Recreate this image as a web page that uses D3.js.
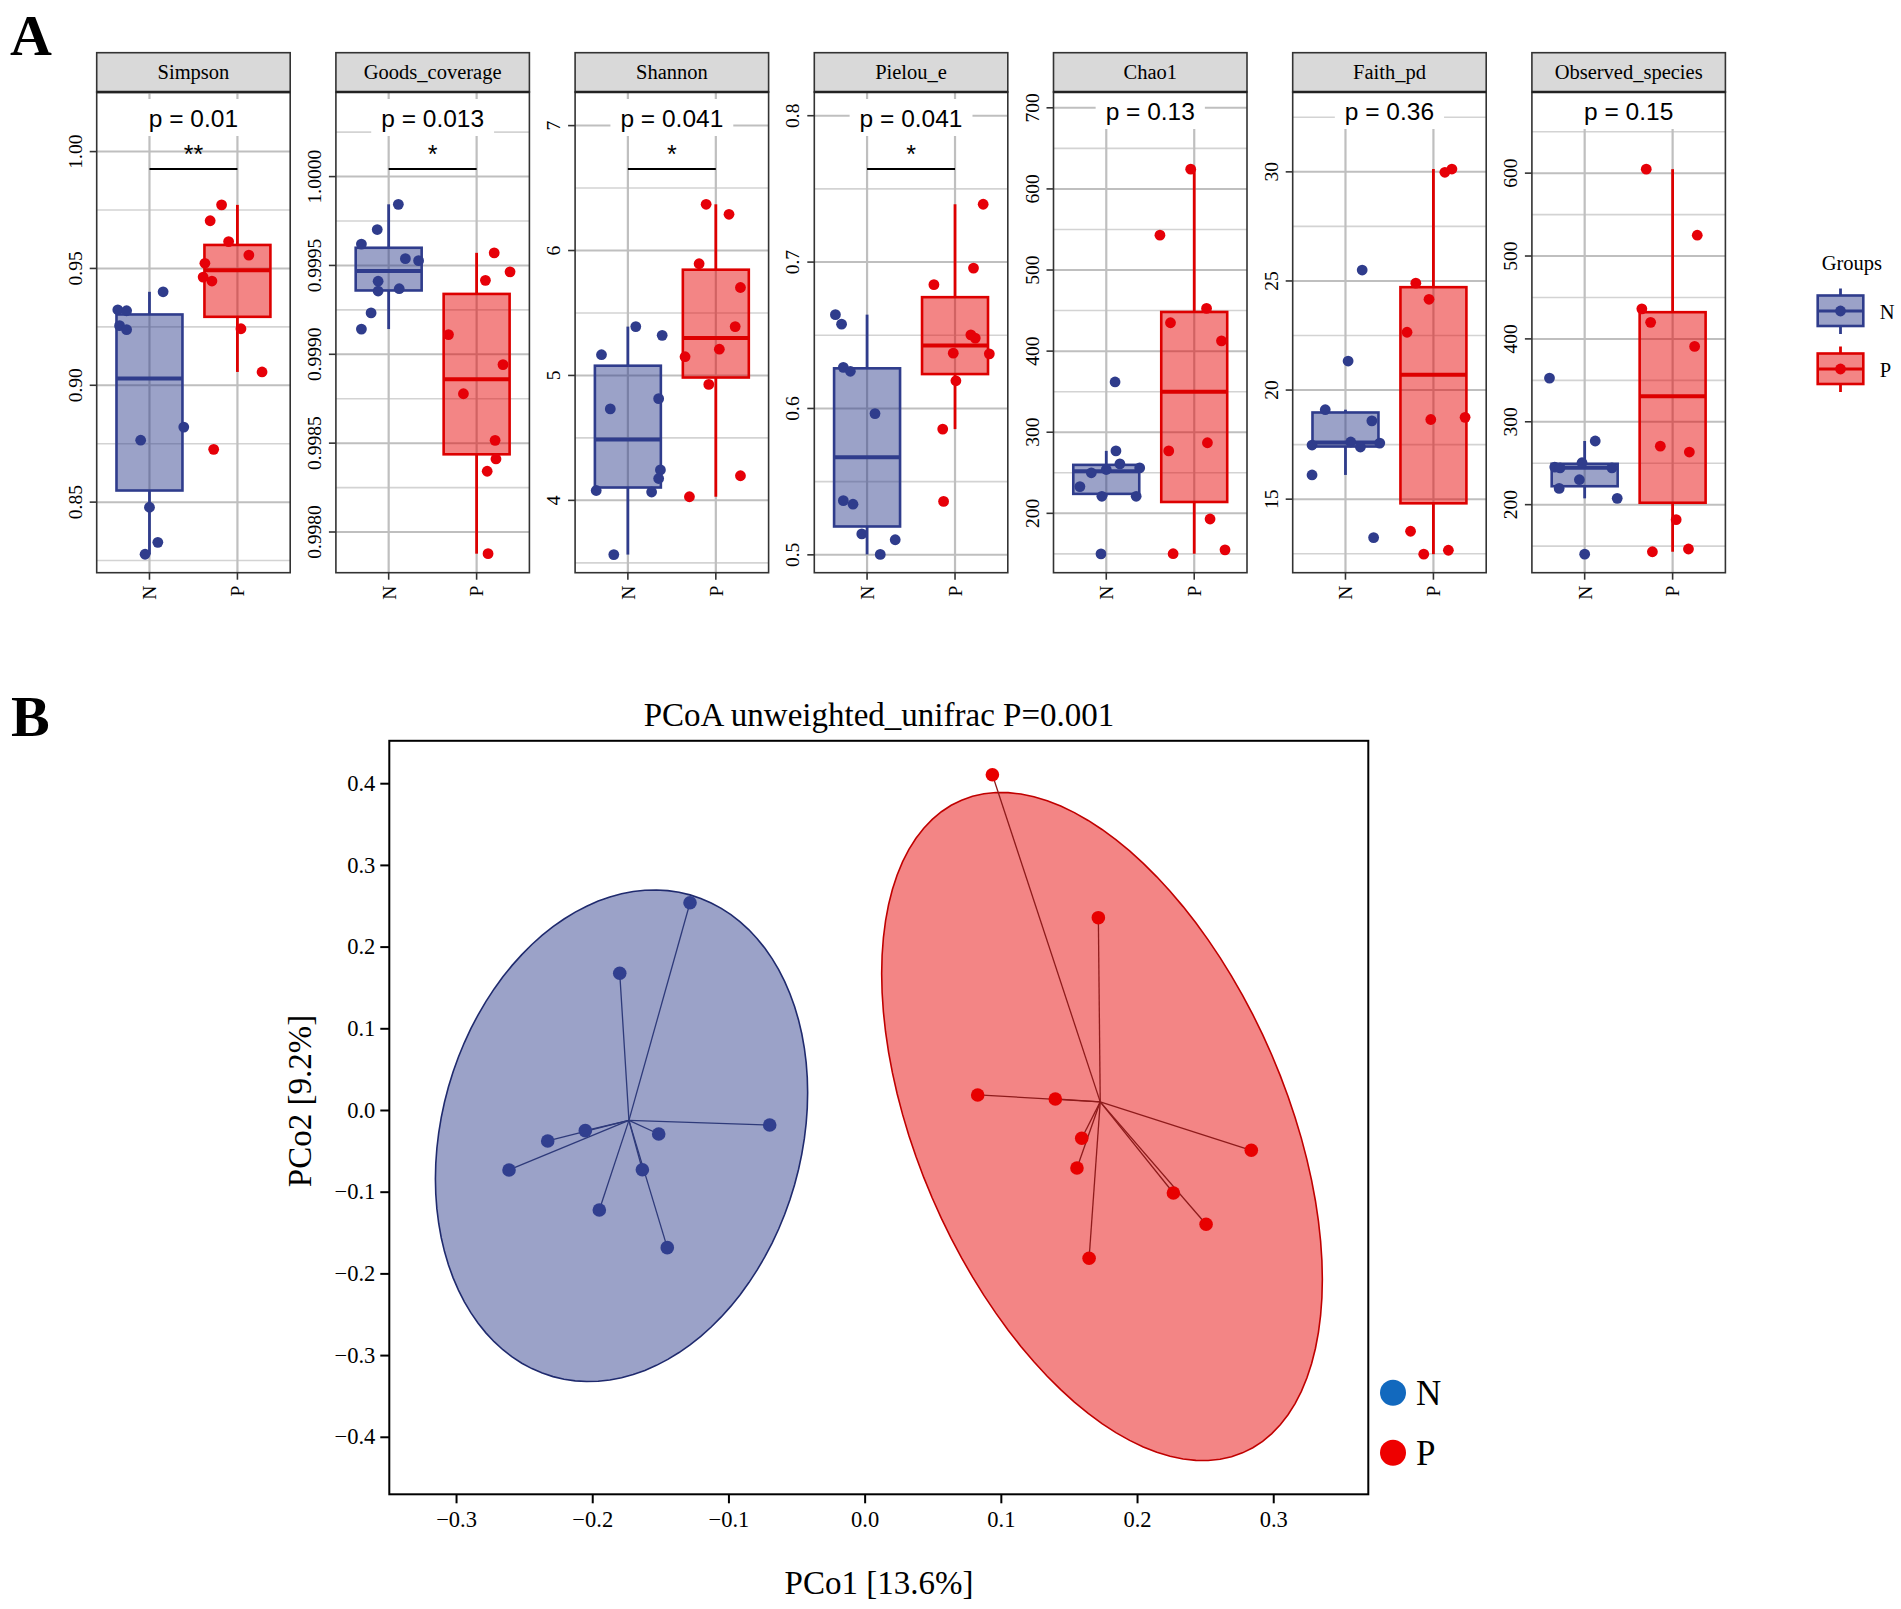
<!DOCTYPE html>
<html>
<head>
<meta charset="utf-8">
<script src="https://cdn.jsdelivr.net/npm/d3@7"></script>
<style>
  body { margin: 0; background: #fff; }
  svg text { font-family: "Liberation Serif", "Times New Roman", serif; fill: #000; }
  svg text.sans { font-family: "Liberation Sans", Arial, sans-serif; }
</style>
</head>
<body>
<svg id="fig" width="1901" height="1609"></svg>
<script>
// ---------------- data (panel A: alpha diversity) ----------------
var metrics = ["Simpson", "Goods_coverage", "Shannon", "Pielou_e", "Chao1", "Faith_pd", "Observed_species"];
var groups = ["N", "P"];
var pLabels = ["p = 0.01", "p = 0.013", "p = 0.041", "p = 0.041", "p = 0.13", "p = 0.36", "p = 0.15"];
var sigLabels = ["**", "*", "*", "*", "", "", ""];

var simpsonN = [0.9323, 0.9319, 0.9255, 0.9238, 0.9400, 0.8821, 0.8765, 0.8478, 0.8328, 0.8277];
var simpsonP = [0.9772, 0.9704, 0.9615, 0.9557, 0.9522, 0.9463, 0.9446, 0.9242, 0.9057, 0.8726];
var goodsN = [0.999844, 0.999702, 0.999620, 0.999538, 0.999527, 0.999411, 0.999369, 0.999356, 0.999233, 0.999142];
var goodsP = [0.999571, 0.999464, 0.999416, 0.999111, 0.998942, 0.998778, 0.998516, 0.998411, 0.998342, 0.997878];
var shannonN = [5.391, 5.321, 5.166, 4.732, 4.814, 4.244, 4.175, 4.079, 4.067, 3.566];
var shannonP = [6.370, 6.290, 5.894, 5.704, 5.391, 5.210, 5.150, 4.928, 4.197, 4.029];
var pielouN = [0.6641, 0.6576, 0.6281, 0.6254, 0.5965, 0.5370, 0.5346, 0.5143, 0.5103, 0.5003];
var pielouP = [0.7395, 0.6959, 0.6846, 0.6503, 0.6481, 0.6378, 0.6373, 0.6189, 0.5859, 0.5365];
var chao1N = [362, 277, 261, 256, 250, 254, 233, 221, 221, 150];
var chao1P = [624.4, 543, 452.7, 435, 412.7, 287, 277, 193, 155, 150.2];
var faithN = [25.50, 21.33, 19.10, 18.59, 17.62, 17.48, 17.39, 17.57, 16.11, 13.24];
var faithP = [29.98, 30.13, 24.90, 24.16, 22.65, 18.65, 18.75, 13.53, 12.48, 12.66];
var observedN = [352.7, 276.8, 245.3, 244.4, 250.6, 244.4, 230.1, 219.6, 207.6, 140.3];
var observedP = [604.8, 525.1, 436.3, 420, 390.9, 270.6, 263.5, 181.9, 143.2, 146.5];

// jitter offsets (fraction of category spacing)
var simpsonNJit = [-0.36, -0.26, -0.34, -0.26, 0.155, 0.39, -0.10, 0.0, 0.095, -0.05];
var simpsonPJit = [-0.18, -0.31, -0.10, 0.13, -0.37, -0.39, -0.29, 0.04, 0.28, -0.27];
var goodsNJit = [0.11, -0.13, -0.31, 0.19, 0.34, -0.12, 0.12, -0.12, -0.20, -0.31];
var goodsPJit = [0.20, 0.38, 0.10, -0.32, 0.30, -0.15, 0.21, 0.22, 0.12, 0.13];
var shannonNJit = [0.09, 0.39, -0.30, -0.20, 0.35, 0.37, 0.35, -0.36, 0.27, -0.16];
var shannonPJit = [-0.11, 0.15, -0.19, 0.28, 0.22, 0.04, -0.35, -0.08, 0.28, -0.30];
var pielouNJit = [-0.36, -0.29, -0.27, -0.19, 0.09, -0.27, -0.16, -0.06, 0.32, 0.15];
var pielouPJit = [0.32, 0.21, -0.24, 0.18, 0.23, -0.02, 0.39, 0.01, -0.14, -0.13];
var chao1NJit = [0.10, 0.11, 0.155, 0.38, -0.17, 0.0, -0.30, -0.05, 0.34, -0.06];
var chao1PJit = [-0.04, -0.39, 0.14, -0.27, 0.31, 0.15, -0.29, 0.18, 0.35, -0.24];
var faithNJit = [0.19, 0.03, -0.23, 0.30, 0.06, -0.38, 0.17, 0.39, -0.38, 0.32];
var faithPJit = [0.13, 0.21, -0.20, -0.05, -0.30, -0.03, 0.36, -0.26, -0.11, 0.17];
var observedNJit = [-0.40, 0.12, -0.34, -0.28, -0.03, 0.31, -0.06, -0.29, 0.37, 0.0];
var observedPJit = [-0.30, 0.28, -0.35, -0.25, 0.25, -0.14, 0.19, 0.04, -0.23, 0.18];

var yLimits = [[0.8198, 1.0255], [0.997771, 1.000476], [3.421, 7.269], [0.4878, 0.8162],
               [126.8, 719.5], [11.63, 33.66], [117.9, 697.9]];
var yTicks = [[0.85, 0.90, 0.95, 1.00], [0.9980, 0.9985, 0.9990, 0.9995, 1.0000], [4, 5, 6, 7],
              [0.5, 0.6, 0.7, 0.8], [200, 300, 400, 500, 600, 700], [15, 20, 25, 30], [200, 300, 400, 500, 600]];
var tickDecimals = [2, 4, 0, 1, 0, 0, 0];

// ---------------- data (panel B: PCoA) ----------------
var pcoaNx = [-0.1282, -0.1798, -0.2051, -0.2327, -0.2611, -0.1512, -0.1632, -0.1948, -0.1449, -0.0697];
var pcoaNy = [0.2537, 0.1673, -0.0253, -0.0379, -0.0734, -0.0294, -0.0731, -0.1224, -0.1685, -0.0184];
var pcoaPx = [0.0938, 0.1716, 0.0830, 0.1400, 0.1594, 0.1559, 0.2839, 0.2267, 0.2507, 0.1648];
var pcoaPy = [0.4104, 0.2354, 0.0184, 0.0135, -0.0346, -0.0710, -0.0493, -0.1016, -0.1399, -0.1815];
var pcoaXTicks = [-0.3, -0.2, -0.1, 0.0, 0.1, 0.2, 0.3];
var pcoaYTicks = [-0.4, -0.3, -0.2, -0.1, 0.0, 0.1, 0.2, 0.3, 0.4];
var pcoaTitle = "PCoA unweighted_unifrac P=0.001";
var pcoaXLabel = "PCo1 [13.6%]";
var pcoaYLabel = "PCo2 [9.2%]";

var valuesN = [simpsonN, goodsN, shannonN, pielouN, chao1N, faithN, observedN];
var valuesP = [simpsonP, goodsP, shannonP, pielouP, chao1P, faithP, observedP];
var jitterN = [simpsonNJit, goodsNJit, shannonNJit, pielouNJit, chao1NJit, faithNJit, observedNJit];
var jitterP = [simpsonPJit, goodsPJit, shannonPJit, pielouPJit, chao1PJit, faithPJit, observedPJit];

// ---------------- styles ----------------
var col = {
  N: { point: "#2f3c8c", line: "#2f3c8c", fill: "#2f3c8c" },
  P: { point: "#e60008", line: "#dd0000", fill: "#e60000" }
};

var svg = d3.select("#fig");
svg.append("rect").attr("width", 1901).attr("height", 1609).attr("fill", "#fff");

function boxStats(v) {
  var s = v.slice().sort(d3.ascending);
  var q1 = d3.quantileSorted(s, 0.25), med = d3.quantileSorted(s, 0.5), q3 = d3.quantileSorted(s, 0.75);
  var iqr = q3 - q1;
  return {
    q1: q1, med: med, q3: q3,
    lo: d3.min(s.filter(function (d) { return d >= q1 - 1.5 * iqr; })),
    hi: d3.max(s.filter(function (d) { return d <= q3 + 1.5 * iqr; }))
  };
}

// ---------------- panel A ----------------
var panelLeft0 = 96.7, panelStep = 239.2, panelW = 193.5;
var stripTop = 52.7, stripBottom = 92, panelBottom = 572.7;

metrics.forEach(function (m, i) {
  var left = panelLeft0 + i * panelStep;
  var g = svg.append("g").attr("transform", "translate(" + left + ",0)");
  var x = d3.scalePoint().domain(groups).range([0, panelW]).padding(0.6);
  var step = x.step();
  var y = d3.scaleLinear().domain(yLimits[i]).range([panelBottom, stripBottom]);
  var ticks = yTicks[i];
  var dstep = ticks[1] - ticks[0];
  var minor = [];
  for (var k = -1; k < ticks.length; k++) {
    var v = ticks[0] + (k + 0.5) * dstep;
    if (v > yLimits[i][0] && v < yLimits[i][1]) minor.push(v);
  }
  var fmt = d3.format("." + tickDecimals[i] + "f");

  // grid
  g.selectAll(".minor").data(minor).enter().append("line")
    .attr("x1", 0).attr("x2", panelW)
    .attr("y1", function (d) { return y(d); }).attr("y2", function (d) { return y(d); })
    .attr("stroke", "#d3d3d3").attr("stroke-width", 1.6);
  g.selectAll(".major").data(ticks).enter().append("line")
    .attr("x1", 0).attr("x2", panelW)
    .attr("y1", function (d) { return y(d); }).attr("y2", function (d) { return y(d); })
    .attr("stroke", "#bfbfbf").attr("stroke-width", 2);
  g.selectAll(".vgrid").data(groups).enter().append("line")
    .attr("x1", function (d) { return x(d); }).attr("x2", function (d) { return x(d); })
    .attr("y1", stripBottom).attr("y2", panelBottom)
    .attr("stroke", "#bfbfbf").attr("stroke-width", 2.2);

  // p value label with white background
  var hasSig = sigLabels[i] !== "";
  var pBase = hasSig ? 127 : 120;
  var bg = g.append("rect").attr("fill", "#fff");
  var pt = g.append("text").attr("class", "sans")
    .attr("x", panelW / 2).attr("y", pBase)
    .attr("text-anchor", "middle").attr("font-size", 24.5)
    .text(pLabels[i]);
  var tw = pt.node().getComputedTextLength();
  bg.attr("x", panelW / 2 - tw / 2 - 10).attr("width", tw + 20)
    .attr("y", Math.max(stripBottom, pBase - 28)).attr("height", pBase + 9 - Math.max(stripBottom, pBase - 28));

  // boxes
  var boxW = step * 0.75;
  [["N", valuesN[i]], ["P", valuesP[i]]].forEach(function (gp) {
    var grp = gp[0], st = boxStats(gp[1]), cx = x(grp);
    var c = col[grp];
    g.append("line").attr("x1", cx).attr("x2", cx).attr("y1", y(st.hi)).attr("y2", y(st.q3))
      .attr("stroke", c.line).attr("stroke-width", 2.8);
    g.append("line").attr("x1", cx).attr("x2", cx).attr("y1", y(st.q1)).attr("y2", y(st.lo))
      .attr("stroke", c.line).attr("stroke-width", 2.8);
    g.append("rect").attr("x", cx - boxW / 2).attr("width", boxW)
      .attr("y", y(st.q3)).attr("height", y(st.q1) - y(st.q3))
      .attr("fill", c.fill).attr("fill-opacity", 0.48)
      .attr("stroke", c.line).attr("stroke-width", 2.6);
    g.append("line").attr("x1", cx - boxW / 2).attr("x2", cx + boxW / 2)
      .attr("y1", y(st.med)).attr("y2", y(st.med))
      .attr("stroke", c.line).attr("stroke-width", 4);
  });

  // jittered points
  [["N", valuesN[i], jitterN[i]], ["P", valuesP[i], jitterP[i]]].forEach(function (gp) {
    var grp = gp[0], jit = gp[2];
    g.selectAll(".pt" + grp).data(gp[1]).enter().append("circle")
      .attr("cx", function (d, j) { return x(grp) + jit[j] * step; })
      .attr("cy", function (d) { return y(d); })
      .attr("r", 5.4).attr("fill", col[grp].point);
  });

  // significance bar
  if (hasSig) {
    g.append("line").attr("x1", x("N")).attr("x2", x("P")).attr("y1", 169).attr("y2", 169)
      .attr("stroke", "#000").attr("stroke-width", 2);
    g.append("text").attr("class", "sans").attr("x", panelW / 2).attr("y", 163)
      .attr("text-anchor", "middle").attr("font-size", 25).text(sigLabels[i]);
  }

  // panel border + strip
  g.append("rect").attr("x", 0).attr("y", stripBottom).attr("width", panelW).attr("height", panelBottom - stripBottom)
    .attr("fill", "none").attr("stroke", "#333").attr("stroke-width", 1.6);
  g.append("rect").attr("x", 0).attr("y", stripTop).attr("width", panelW).attr("height", stripBottom - stripTop)
    .attr("fill", "#d9d9d9").attr("stroke", "#333").attr("stroke-width", 1.6);
  g.append("line").attr("x1", 0).attr("x2", panelW).attr("y1", stripBottom).attr("y2", stripBottom)
    .attr("stroke", "#222").attr("stroke-width", 2.4);
  g.append("text").attr("x", panelW / 2).attr("y", 79.3).attr("text-anchor", "middle")
    .attr("font-size", 20.5).attr("fill", "#1a1a1a").text(m);

  // y axis
  g.selectAll(".ytick").data(ticks).enter().append("line")
    .attr("x1", -7).attr("x2", 0)
    .attr("y1", function (d) { return y(d); }).attr("y2", function (d) { return y(d); })
    .attr("stroke", "#333").attr("stroke-width", 1.6);
  g.selectAll(".ylab").data(ticks).enter().append("text")
    .attr("transform", function (d) { return "translate(-15," + y(d) + ") rotate(-90)"; })
    .attr("text-anchor", "middle").attr("font-size", 19.5).attr("fill", "#333")
    .text(function (d) { return fmt(d); });

  // x axis
  g.selectAll(".xtick").data(groups).enter().append("line")
    .attr("x1", function (d) { return x(d); }).attr("x2", function (d) { return x(d); })
    .attr("y1", panelBottom).attr("y2", panelBottom + 7)
    .attr("stroke", "#333").attr("stroke-width", 1.6);
  g.selectAll(".xlab").data(groups).enter().append("text")
    .attr("transform", function (d) { return "translate(" + x(d) + "," + (panelBottom + 13) + ") rotate(-90)"; })
    .attr("text-anchor", "end").attr("dy", "0.35em").attr("font-size", 19.5).attr("fill", "#333")
    .text(function (d) { return d; });
});

// legend A
var legA = svg.append("g").attr("transform", "translate(1817.7,0)");
legA.append("text").attr("x", 4).attr("y", 270).attr("font-size", 20.5).text("Groups");
groups.forEach(function (grp, j) {
  var cy = 311 + j * 58, c = col[grp];
  legA.append("line").attr("x1", 22.8).attr("x2", 22.8).attr("y1", cy - 22.5).attr("y2", cy + 23)
    .attr("stroke", c.line).attr("stroke-width", 2.8);
  legA.append("rect").attr("x", 0).attr("y", cy - 15.5).attr("width", 45.6).attr("height", 30.5)
    .attr("fill", "#fff");
  legA.append("rect").attr("x", 0).attr("y", cy - 15.5).attr("width", 45.6).attr("height", 30.5)
    .attr("fill", c.fill).attr("fill-opacity", 0.48).attr("stroke", c.line).attr("stroke-width", 2.6);
  legA.append("line").attr("x1", 0).attr("x2", 45.6).attr("y1", cy).attr("y2", cy)
    .attr("stroke", c.line).attr("stroke-width", 2.8);
  legA.append("circle").attr("cx", 22.8).attr("cy", cy).attr("r", 5.4).attr("fill", c.point);
  legA.append("text").attr("x", 62).attr("y", cy + 8).attr("font-size", 20.5).text(grp);
});

// panel letters
svg.append("text").attr("x", 10).attr("y", 55).attr("font-size", 58).attr("font-weight", "bold").text("A");
svg.append("text").attr("x", 11).attr("y", 736).attr("font-size", 58).attr("font-weight", "bold").text("B");

// ---------------- panel B ----------------
var bLeft = 389.3, bRight = 1368.3, bTop = 740.8, bBottom = 1494.3;
var bx = d3.scaleLinear().domain([-0.349, 0.3698]).range([bLeft, bRight]);
var by = d3.scaleLinear().domain([-0.4704, 0.4519]).range([bBottom, bTop]);

var colB = {
  N: { fill: "#2f3c8c", edge: "#1f2a6e", seg: "#2e3a7a", point: "#313f8f", key: "#1269be" },
  P: { fill: "#e60000", edge: "#c00000", seg: "#8e1b1b", point: "#e80000", key: "#ee0000" }
};

// robust t covariance (as MASS::cov.trob)
function covTrob(px, py) {
  var n = px.length, nu = 5, p = 2, tol = 0.01;
  var w = px.map(function () { return 1; });
  var lx = d3.mean(px), ly = d3.mean(py);
  var X = [];
  for (var it = 0; it < 25; it++) {
    var w0 = w.slice();
    X = px.map(function (d, j) { return [d - lx, py[j] - ly]; });
    var sw = d3.sum(w), a = 0, b = 0, c = 0;
    X.forEach(function (r, j) { a += w[j] * r[0] * r[0]; b += w[j] * r[0] * r[1]; c += w[j] * r[1] * r[1]; });
    a /= sw; b /= sw; c /= sw;
    var det = a * c - b * b;
    var Q = X.map(function (r) { return (c * r[0] * r[0] - 2 * b * r[0] * r[1] + a * r[1] * r[1]) / det; });
    w = Q.map(function (q) { return (nu + p) / (nu + q); });
    var sw2 = d3.sum(w);
    lx = d3.sum(px.map(function (d, j) { return w[j] * d; })) / sw2;
    ly = d3.sum(py.map(function (d, j) { return w[j] * d; })) / sw2;
    var done = w.every(function (d, j) { return Math.abs(d - w0[j]) < tol; });
    if (done) break;
  }
  var ca = 0, cb = 0, cc = 0;
  X.forEach(function (r, j) { ca += w[j] * r[0] * r[0]; cb += w[j] * r[0] * r[1]; cc += w[j] * r[1] * r[1]; });
  return { center: [lx, ly], cov: [ca / n, cb / n, cc / n] };
}

function ellipsePoints(px, py) {
  var v = covTrob(px, py), n = px.length;
  var dfd = n - 1;
  var qf = (dfd / 2) * (Math.pow(0.05, -2 / dfd) - 1); // F(2, dfd) 0.95 quantile
  var radius = Math.sqrt(2 * qf);
  var r11 = Math.sqrt(v.cov[0]), r12 = v.cov[1] / r11, r22 = Math.sqrt(v.cov[2] - r12 * r12);
  return d3.range(0, 101).map(function (k) {
    var t = k * 2 * Math.PI / 100;
    return [v.center[0] + radius * Math.cos(t) * r11,
            v.center[1] + radius * (Math.cos(t) * r12 + Math.sin(t) * r22)];
  });
}

var lineB = d3.line().x(function (d) { return bx(d[0]); }).y(function (d) { return by(d[1]); });
var bGroups = [["N", pcoaNx, pcoaNy], ["P", pcoaPx, pcoaPy]];

bGroups.forEach(function (gp) {
  var c = colB[gp[0]];
  svg.append("path").attr("d", lineB(ellipsePoints(gp[1], gp[2])) + "Z")
    .attr("fill", c.fill).attr("fill-opacity", 0.48)
    .attr("stroke", c.edge).attr("stroke-width", 1.6);
});
bGroups.forEach(function (gp) {
  var c = colB[gp[0]], mx = d3.mean(gp[1]), my = d3.mean(gp[2]);
  svg.append("g").selectAll("line").data(gp[1]).enter().append("line")
    .attr("x1", bx(mx)).attr("y1", by(my))
    .attr("x2", function (d) { return bx(d); })
    .attr("y2", function (d, j) { return by(gp[2][j]); })
    .attr("stroke", c.seg).attr("stroke-width", 1.3);
});
bGroups.forEach(function (gp) {
  var c = colB[gp[0]];
  svg.append("g").selectAll("circle").data(gp[1]).enter().append("circle")
    .attr("cx", function (d) { return bx(d); })
    .attr("cy", function (d, j) { return by(gp[2][j]); })
    .attr("r", 6.8).attr("fill", c.point);
});

svg.append("rect").attr("x", bLeft).attr("y", bTop).attr("width", bRight - bLeft).attr("height", bBottom - bTop)
  .attr("fill", "none").attr("stroke", "#000").attr("stroke-width", 2);

var fmtB = d3.format(".1f");
var axL = svg.append("g").attr("transform", "translate(" + bLeft + ",0)")
  .call(d3.axisLeft(by).tickValues(pcoaYTicks).tickSize(9).tickPadding(5).tickFormat(fmtB));
var axB = svg.append("g").attr("transform", "translate(0," + bBottom + ")")
  .call(d3.axisBottom(bx).tickValues(pcoaXTicks).tickSize(9).tickPadding(8).tickFormat(fmtB));
[axL, axB].forEach(function (ax) {
  ax.select(".domain").remove();
  ax.selectAll(".tick line").attr("stroke", "#000").attr("stroke-width", 2);
  ax.selectAll(".tick text").attr("font-size", 22.5).attr("fill", "#000")
    .attr("font-family", "Liberation Serif, Times New Roman, serif");
});

svg.append("text").attr("x", 879).attr("y", 726).attr("text-anchor", "middle").attr("font-size", 33).text(pcoaTitle);
svg.append("text").attr("x", 879).attr("y", 1594).attr("text-anchor", "middle").attr("font-size", 33).text(pcoaXLabel);
svg.append("text").attr("transform", "translate(311,1101) rotate(-90)").attr("text-anchor", "middle")
  .attr("font-size", 33).text(pcoaYLabel);

// legend B
groups.forEach(function (grp, j) {
  var cy = 1392.7 + j * 60;
  svg.append("circle").attr("cx", 1393).attr("cy", cy).attr("r", 13).attr("fill", colB[grp].key);
  svg.append("text").attr("x", 1416).attr("y", cy + 12.5).attr("font-size", 35).text(grp);
});
</script>
</body>
</html>
